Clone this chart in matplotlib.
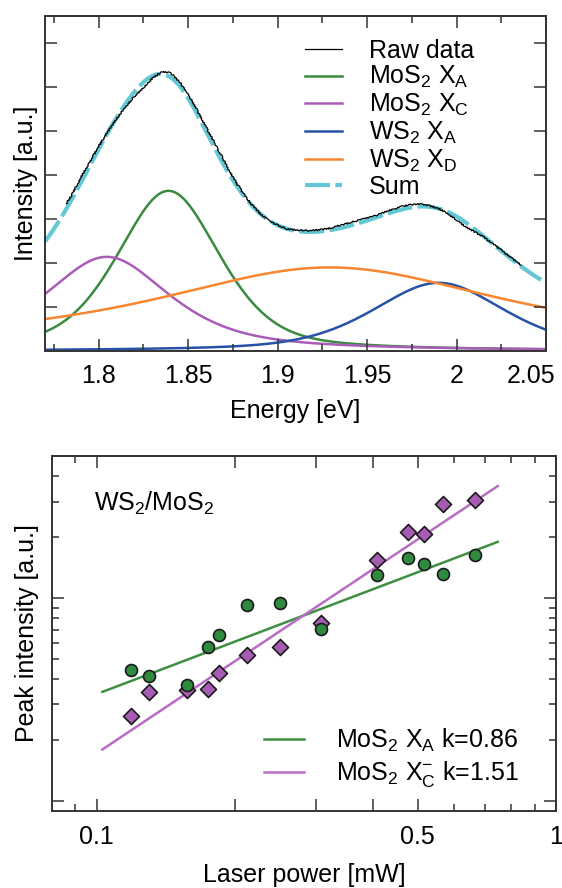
"""
Exciton PL of a WS2/MoS2 heterostructure (5.62x8.88 in).

Top: PL spectrum with its four-peak decomposition.
Bottom: power dependence of the MoS2 exciton and trion peak intensity.
"""
import numpy as np
import matplotlib
matplotlib.use('Agg')
import matplotlib.pyplot as plt
from matplotlib.lines import Line2D
from matplotlib.transforms import ScaledTranslation
from matplotlib.ticker import FixedLocator, NullFormatter, FixedFormatter

plt.rcParams.update({
    'font.family': ['Liberation Sans', 'DejaVu Sans'],
    'font.size': 18,
    'mathtext.fontset': 'custom',
    'mathtext.rm': 'Liberation Sans',
    'mathtext.it': 'Liberation Sans:italic',
    'mathtext.bf': 'Liberation Sans:bold',
    'axes.linewidth': 1.4,
    'axes.edgecolor': '#333333',
})

# --- spectrum: raw trace -----------------------------------------------------
raw_energy = [1.782, 1.785, 1.790, 1.795, 1.800, 1.805, 1.810, 1.815, 1.820,
              1.825, 1.830, 1.835, 1.840, 1.845, 1.850, 1.855, 1.860, 1.865,
              1.870, 1.875, 1.880, 1.885, 1.890, 1.895, 1.900, 1.905, 1.910,
              1.915, 1.920, 1.925, 1.930, 1.935, 1.940, 1.945, 1.950, 1.955,
              1.960, 1.965, 1.970, 1.975, 1.980, 1.985, 1.990, 1.995, 2.000,
              2.005, 2.010, 2.015, 2.020, 2.025, 2.030, 2.036]
raw_intensity = [3.35, 3.55, 3.95, 4.30, 4.65, 4.98, 5.28, 5.55, 5.78,
                 5.98, 6.20, 6.34, 6.33, 6.12, 5.85, 5.47, 5.09, 4.71,
                 4.33, 3.95, 3.63, 3.35, 3.13, 2.97, 2.86, 2.78, 2.75,
                 2.74, 2.74, 2.76, 2.80, 2.86, 2.91, 2.97, 3.02, 3.08,
                 3.16, 3.23, 3.29, 3.33, 3.34, 3.30, 3.24, 3.12, 2.98,
                 2.82, 2.71, 2.59, 2.45, 2.29, 2.14, 1.95]

# --- spectrum: fitted pseudo-Voigt components --------------------------------
peak_labels = [r'MoS$_2$ X$_\mathrm{A}$', r'MoS$_2$ X$_\mathrm{C}$',
               r'WS$_2$ X$_\mathrm{A}$', r'WS$_2$ X$_\mathrm{D}$']
peak_center = [1.839, 1.8045, 1.990, 1.929]
peak_height = [3.64, 2.14, 1.55, 1.90]
peak_fwhm = [0.068, 0.084, 0.088, 0.250]
peak_eta = [0.45, 0.7, 0.5, 1.0]
peak_colors = ['#3a8a3f', '#a95db6', '#2652a8', '#f7862f']

# --- power series ------------------------------------------------------------
power_mw = [0.119, 0.130, 0.157, 0.175, 0.185, 0.213, 0.251, 0.308,
            0.407, 0.476, 0.516, 0.568, 0.667]
xa_intensity = [0.443, 0.415, 0.372, 0.573, 0.662, 0.927, 0.945, 0.706,
                1.30, 1.58, 1.48, 1.32, 1.63]
xc_intensity = [0.263, 0.346, 0.353, 0.357, 0.428, 0.523, 0.573, 0.758,
                1.55, 2.13, 2.07, 2.91, 3.06]
fit_k = [0.86, 1.51]
fit_prefactor = [2.44, 5.56]
fit_range = [0.103, 0.747]


def pseudo_voigt(x, x0, h, fwhm, eta):
    hw = fwhm / 2.0
    lor = 1.0 / (1.0 + ((x - x0) / hw) ** 2)
    sig = fwhm / (2.0 * np.sqrt(2.0 * np.log(2.0)))
    gau = np.exp(-(x - x0) ** 2 / (2.0 * sig ** 2))
    return h * (eta * lor + (1.0 - eta) * gau)


def style_ticks(ax):
    ax.tick_params(which='both', direction='in', top=True, right=True,
                   width=1.1, color='#333333', labelsize=18)
    ax.tick_params(which='major', length=8.6, pad=9)
    ax.tick_params(which='minor', length=5)


fig = plt.figure(figsize=(5.62, 8.88), dpi=100, facecolor='white')

# ---------------------------------------------------------------- spectrum
ax1 = fig.add_axes([0.0801, 0.6047, 0.8915, 0.3773])
E = np.linspace(1.77, 2.05, 600)
total = np.zeros_like(E)
comps = []
for c, h, w, eta in zip(peak_center, peak_height, peak_fwhm, peak_eta):
    y = pseudo_voigt(E, c, h, w, eta)
    comps.append(y)
    total += y

sum_line, = ax1.plot(E, total, color='#63c8d4', lw=3.0, dashes=(6, 1.3),
                     zorder=2)
raw_line, = ax1.plot(raw_energy, raw_intensity, color='black', lw=0.9,
                     zorder=3)
raw_line.set_sketch_params(0.7, 1.5, 2.0)
comp_lines = []
for y, col in zip(comps, peak_colors):
    ln, = ax1.plot(E, y, color=col, lw=1.8, zorder=1)
    comp_lines.append(ln)

ax1.set_xlim(1.77, 2.05)
ax1.set_ylim(0, 7.614)
ax1.xaxis.set_major_locator(FixedLocator([1.8, 1.85, 1.9, 1.95, 2.0, 2.05]))
ax1.xaxis.set_major_formatter(
    FixedFormatter(['1.8', '1.85', '1.9', '1.95', '2', '2.05']))
ax1.xaxis.set_minor_locator(FixedLocator([1.775, 1.825, 1.875, 1.925,
                                          1.975, 2.025]))
ax1.yaxis.set_major_locator(FixedLocator([1, 2, 3, 4, 5, 6, 7]))
ax1.yaxis.set_major_formatter(NullFormatter())
style_ticks(ax1)
ax1.set_xlabel('Energy [eV]', labelpad=8)
ax1.set_ylabel('Intensity [a.u.]')
ax1.yaxis.set_label_coords(-0.014, 0.5)

# keep the last energy label inside the figure
last = ax1.xaxis.get_major_ticks()[-1].label1
last.set_transform(last.get_transform()
                   + ScaledTranslation(-10.8 / 72, 0, fig.dpi_scale_trans))

raw_handle = Line2D([], [], color='black', lw=0.9)
ax1.legend([raw_handle] + comp_lines + [sum_line],
           ['Raw data'] + peak_labels + ['Sum'],
           loc='upper left', bbox_to_anchor=(0.519, 0.932), frameon=False,
           borderaxespad=0, borderpad=0, handlelength=1.48,
           handletextpad=1.08, labelspacing=0.06, fontsize=18)

# ---------------------------------------------------------------- power law
ax2 = fig.add_axes([0.0925, 0.0867, 0.8968, 0.4001])
ax2.set_xscale('log')
ax2.set_yscale('log')

xf = np.array(fit_range)
line_colors = ['#3f8f43', '#b86cc4']
fit_labels = [r'MoS$_2$ X$_\mathrm{A}$ k=%.2f' % fit_k[0],
              r'MoS$_2$ X$_\mathrm{C}^{-}$ k=%.2f' % fit_k[1]]
for k, a, col, lab in zip(fit_k, fit_prefactor, line_colors, fit_labels):
    ax2.plot(xf, a * xf ** k, color=col, lw=1.8, label=lab, zorder=1)

ax2.scatter(power_mw, xc_intensity, marker='D', s=66, facecolor='#a75cb3',
            edgecolor='#1a1a1a', linewidth=1.2, zorder=3)
ax2.scatter(power_mw, xa_intensity, marker='o', s=74, facecolor='#2f8a3d',
            edgecolor='#1a1a1a', linewidth=1.2, zorder=4)

ax2.set_xlim(0.08, 1.0)
ax2.set_ylim(0.0893, 5.05)
ax2.xaxis.set_major_locator(FixedLocator([0.1, 0.2, 0.3, 0.4, 0.5, 1.0]))
ax2.xaxis.set_major_formatter(
    FixedFormatter(['0.1', '', '', '', '0.5', '1']))
ax2.xaxis.set_minor_locator(FixedLocator([0.09, 0.6, 0.7, 0.8, 0.9]))
ax2.xaxis.set_minor_formatter(NullFormatter())
ax2.yaxis.set_major_locator(FixedLocator([0.1, 1.0]))
ax2.yaxis.set_minor_locator(FixedLocator([0.2, 0.3, 0.4, 0.5, 0.6, 0.7,
                                          0.8, 0.9, 2, 3, 4]))
ax2.yaxis.set_major_formatter(NullFormatter())
ax2.yaxis.set_minor_formatter(NullFormatter())
style_ticks(ax2)
ax2.tick_params(axis='x', which='major', pad=10)
ax2.set_xlabel('Laser power [mW]', labelpad=10)
ax2.set_ylabel('Peak intensity [a.u.]')
ax2.yaxis.set_label_coords(-0.026, 0.5)

ax2.text(0.083, 0.867, r'WS$_2$/MoS$_2$', transform=ax2.transAxes,
         ha='left', va='center', fontsize=18)
ax2.legend(loc='upper left', bbox_to_anchor=(0.42, 0.236), frameon=False,
           borderaxespad=0, borderpad=0, handlelength=1.6,
           handletextpad=1.28, labelspacing=0.2, fontsize=18)

fig.savefig('out.png', dpi=100, facecolor='white')
